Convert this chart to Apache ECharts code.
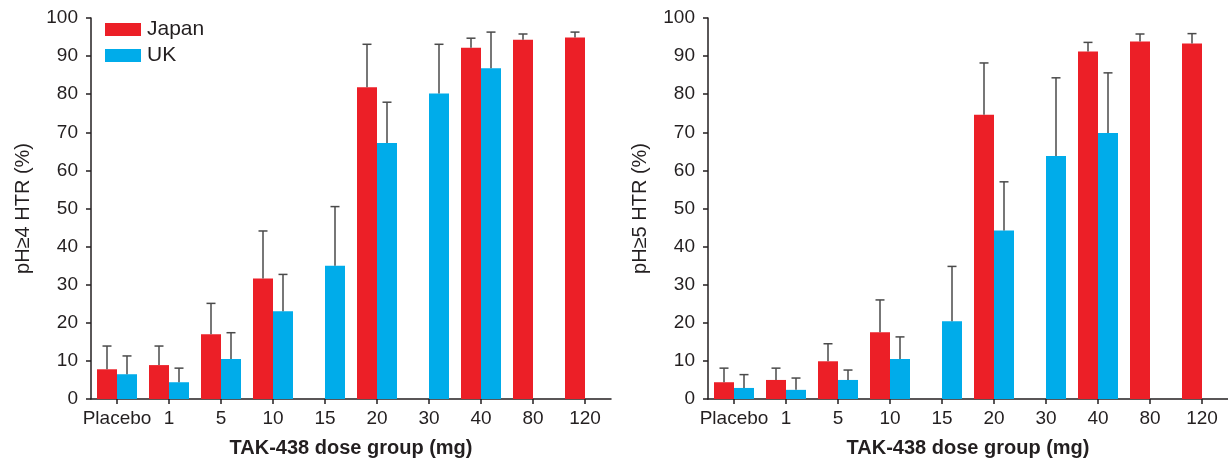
<!DOCTYPE html>
<html>
<head>
<meta charset="utf-8">
<script src="https://cdn.jsdelivr.net/npm/echarts@6/dist/echarts.min.js"></script>
<style>
  html, body { margin: 0; padding: 0; background: #fff; }
  #chart { width: 1228px; height: 463px; }
</style>
</head>
<body>
<div id="chart"></div>
<script>
  // dose groups (mg)
  const categories = ['Placebo', '1', '5', '10', '15', '20', '30', '40', '80', '120'];

  // pH>=4 HTR (%) means and SD (upper error only)
  const ph4Japan   = [7.8, 8.9, 17.0, 31.6, null, 81.8, null, 92.2, 94.3, 94.9];
  const ph4JapanSD = [6.1, 5.0, 8.1, 12.5, null, 11.3, null, 2.5, 1.5, 1.4];
  const ph4UK      = [6.5, 4.4, 10.5, 23.0, 35.0, 67.2, 80.2, 86.8, null, null];
  const ph4UKSD    = [4.8, 3.7, 6.9, 9.7, 15.5, 10.7, 12.9, 9.5, null, null];

  // pH>=5 HTR (%)
  const ph5Japan   = [4.4, 5.0, 9.9, 17.5, null, 74.6, null, 91.2, 93.8, 93.3];
  const ph5JapanSD = [3.7, 3.1, 4.6, 8.5, null, 13.6, null, 2.4, 2.0, 2.6];
  const ph5UK      = [2.9, 2.4, 5.0, 10.5, 20.4, 44.2, 63.8, 69.8, null, null];
  const ph5UKSD    = [3.5, 3.1, 2.6, 5.8, 14.4, 12.8, 20.5, 15.8, null, null];

  const yTicks = [0, 10, 20, 30, 40, 50, 60, 70, 80, 90, 100];

  const RED = '#ec1f27';
  const BLUE = '#00acea';
  const INK = '#231f20';
  const BAR_W = 20;

  const myChart = echarts.init(document.getElementById('chart'), null, { renderer: 'canvas' });

  function xAxisCfg(gridIndex) {
    return {
      type: 'category',
      gridIndex: gridIndex,
      data: categories,
      name: 'TAK-438 dose group (mg)',
      nameLocation: 'middle',
      nameGap: 39,
      nameTextStyle: { fontFamily: 'Liberation Sans', fontSize: 20, fontWeight: 'bold', color: INK },
      axisLine: { show: true, lineStyle: { color: INK, width: 1.5 } },
      axisTick: { show: true, alignWithLabel: true, length: 5, lineStyle: { color: INK, width: 1.5 } },
      axisLabel: { margin: 10, fontFamily: 'Liberation Sans', fontSize: 19, color: INK, interval: 0 },
      splitLine: { show: false }
    };
  }

  function yAxisCfg(gridIndex, name) {
    return {
      type: 'value',
      gridIndex: gridIndex,
      min: yTicks[0],
      max: yTicks[yTicks.length - 1],
      interval: 10,
      name: name,
      nameLocation: 'middle',
      nameGap: 58,
      nameRotate: 90,
      nameTextStyle: { fontFamily: 'Liberation Sans', fontSize: 20, color: INK },
      axisLine: { show: true, lineStyle: { color: INK, width: 1.5 } },
      axisTick: { show: true, length: 5, lineStyle: { color: INK, width: 1.5 } },
      axisLabel: { margin: 13, fontFamily: 'Liberation Sans', fontSize: 19, color: INK },
      splitLine: { show: false }
    };
  }

  function barSeries(name, data, xi, color) {
    return {
      name: name,
      type: 'bar',
      xAxisIndex: xi,
      yAxisIndex: xi,
      data: data.map(v => v == null ? '-' : v),
      barWidth: BAR_W,
      barGap: '0%',
      itemStyle: { color: color },
      emphasis: { disabled: true },
      z: 2
    };
  }

  // upper-only error bars, shifted to sit on the matching bar of the pair
  function errSeries(means, sd, xi, side) {
    const data = [];
    means.forEach((m, i) => {
      if (m != null && sd[i] != null) data.push([i, m, m + sd[i]]);
    });
    return {
      type: 'custom',
      xAxisIndex: xi,
      yAxisIndex: xi,
      silent: true,
      z: 3,
      data: data,
      renderItem: function (params, api) {
        const c = api.value(0);
        const lo = api.coord([c, api.value(1)]);
        const hi = api.coord([c, api.value(2)]);
        const x = lo[0] + side * BAR_W / 2;
        const cap = 4.5;
        const style = { stroke: '#4a4a4a', lineWidth: 1.5 };
        return {
          type: 'group',
          children: [
            { type: 'line', shape: { x1: x, y1: lo[1], x2: x, y2: hi[1] }, style: style },
            { type: 'line', shape: { x1: x - cap, y1: hi[1], x2: x + cap, y2: hi[1] }, style: style }
          ]
        };
      }
    };
  }

  const option = {
    backgroundColor: '#ffffff',
    animation: false,
    legend: {
      data: ['Japan', 'UK'],
      orient: 'vertical',
      left: 105,
      top: 19,
      padding: 0,
      itemWidth: 36,
      itemHeight: 13,
      itemGap: 5,
      icon: 'rect',
      selectedMode: false,
      textStyle: { fontFamily: 'Liberation Sans', fontSize: 21, color: INK, padding: [0, 0, 0, 1] }
    },
    grid: [
      { left: 91, top: 18, width: 520, height: 383 },
      { left: 708, top: 18, width: 520, height: 383 }
    ],
    xAxis: [xAxisCfg(0), xAxisCfg(1)],
    yAxis: [yAxisCfg(0, 'pH≥4 HTR (%)'), yAxisCfg(1, 'pH≥5 HTR (%)')],
    series: [
      barSeries('Japan', ph4Japan, 0, RED),
      barSeries('UK', ph4UK, 0, BLUE),
      barSeries('Japan', ph5Japan, 1, RED),
      barSeries('UK', ph5UK, 1, BLUE),
      errSeries(ph4Japan, ph4JapanSD, 0, -1),
      errSeries(ph4UK, ph4UKSD, 0, 1),
      errSeries(ph5Japan, ph5JapanSD, 1, -1),
      errSeries(ph5UK, ph5UKSD, 1, 1)
    ]
  };

  myChart.setOption(option);
</script>
</body>
</html>
